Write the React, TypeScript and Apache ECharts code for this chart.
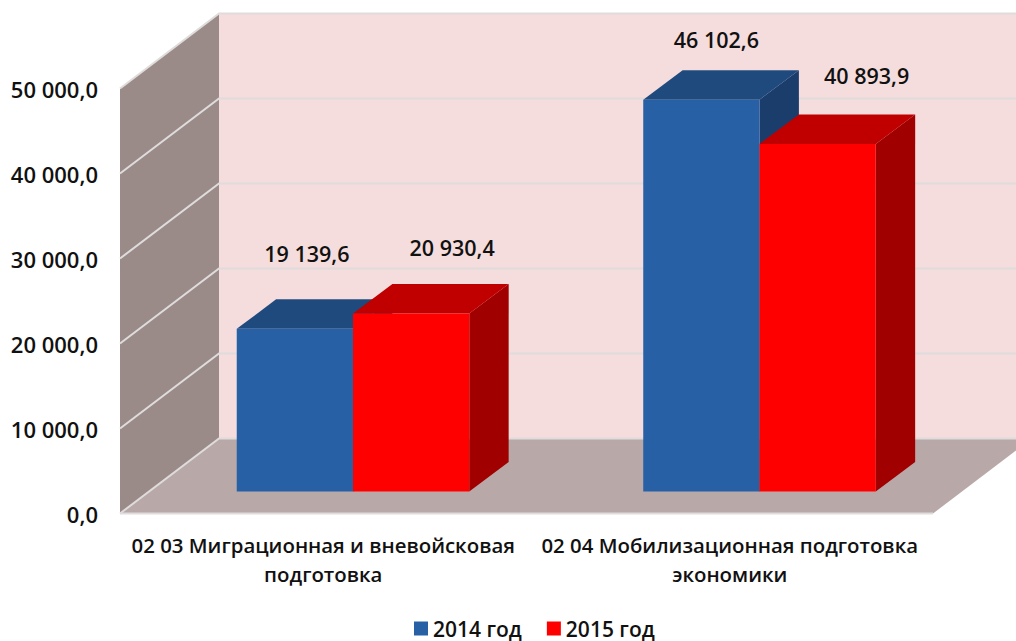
import React, { useEffect, useRef } from "react";
import * as echarts from "echarts";

const categories = [
  "02 03 Миграционная и вневойсковая\nподготовка",
  "02 04 Мобилизационная подготовка\nэкономики",
];
const values2014 = [19139.6, 46102.6];
const values2015 = [20930.4, 40893.9];
const yTicks = [0, 10000, 20000, 30000, 40000, 50000];
const seriesNames = ["2014 год", "2015 год"];

const FONT = '"Open Sans", "Noto Sans", sans-serif';
const WEIGHT = 600;
const WALL_DX = 99;
const WALL_DY = -75;
const BAR_SHIFT_X = 29.75;
const BAR_SHIFT_Y = -22;
const BAR_DX = 39.4;
const BAR_DY = -29.5;
const BAR_RATIO = 0.286;
const GRID_COLOR = "#dfdcdc";

// label centre relative to the front-top centre of each bar
const labelNudge2014 = [[12, -75], [15, -60]];
const labelNudge2015 = [[41, -66], [49, -68]];

const fmt = (v: number, digits = 1) => {
  const [i, d] = v.toFixed(digits).split(".");
  return i.replace(/\B(?=(\d{3})+$)/g, " ") + "," + d;
};

const barRenderer =
  (seriesIdx: number, front: string, top: string, side: string, nudges: number[][]) =>
  (params: any, api: any) => {
    const cat = api.value(0);
    const val = api.value(1);
    const band = api.size([1, 0])[0];
    const w = band * BAR_RATIO;
    const c = api.coord([cat, val]);
    const b = api.coord([cat, 0]);
    const x0 = c[0] + BAR_SHIFT_X + (seriesIdx - 1) * w;
    const x1 = x0 + w;
    const yt = c[1] + BAR_SHIFT_Y;
    const yb = b[1] + BAR_SHIFT_Y;
    const [nx, ny] = nudges[params.dataIndex];
    return {
      type: "group",
      children: [
        {
          type: "polygon",
          shape: { points: [[x1, yt], [x1 + BAR_DX, yt + BAR_DY], [x1 + BAR_DX, yb + BAR_DY], [x1, yb]] },
          style: { fill: side },
        },
        {
          type: "polygon",
          shape: { points: [[x0, yt], [x0 + BAR_DX, yt + BAR_DY], [x1 + BAR_DX, yt + BAR_DY], [x1, yt]] },
          style: { fill: top },
        },
        { type: "rect", shape: { x: x0, y: yt, width: w, height: yb - yt }, style: { fill: front } },
        {
          type: "text",
          z2: 50,
          style: {
            text: fmt(val),
            x: (x0 + x1) / 2 + nx,
            y: yt + ny,
            align: "center",
            verticalAlign: "middle",
            fill: "#111",
            fontFamily: FONT,
            fontWeight: WEIGHT,
            fontSize: 21.5,
          },
        },
      ],
    };
  };

const wallRenderer = (params: any) => {
  const g = params.coordSys;
  const l = g.x;
  const r = g.x + g.width;
  const t = g.y;
  const b = g.y + g.height;
  return {
    type: "group",
    children: [
      {
        type: "polygon",
        shape: { points: [[l + WALL_DX, t + WALL_DY], [r + WALL_DX, t + WALL_DY], [r + WALL_DX, b + WALL_DY], [l + WALL_DX, b + WALL_DY]] },
        style: { fill: "#f5dddd" },
      },
      {
        type: "polygon",
        shape: { points: [[l, t], [l + WALL_DX, t + WALL_DY], [l + WALL_DX, b + WALL_DY], [l, b]] },
        style: { fill: "#9a8b89" },
      },
      {
        type: "polygon",
        shape: { points: [[l, b], [l + WALL_DX, b + WALL_DY], [r + WALL_DX, b + WALL_DY], [r, b]] },
        style: { fill: "#b9a8a8" },
      },
      {
        type: "line",
        shape: { x1: l, y1: b, x2: r, y2: b },
        style: { stroke: GRID_COLOR, lineWidth: 2 },
      },
    ],
  };
};

const gridRenderer = (params: any, api: any) => {
  const g = params.coordSys;
  const y = api.coord([0, api.value(0)])[1];
  const l = g.x;
  const r = g.x + g.width;
  return {
    type: "polyline",
    shape: { points: [[l, y], [l + WALL_DX, y + WALL_DY], [r + WALL_DX, y + WALL_DY]] },
    style: { stroke: GRID_COLOR, lineWidth: 2, fill: "none" },
  };
};

export default function App() {
  const ref = useRef<HTMLDivElement>(null);
  useEffect(() => {
    const chart = echarts.init(ref.current!, undefined, { renderer: "svg" });
    chart.setOption({
      animation: false,
      backgroundColor: "#fff",
      grid: { left: 120, top: 88.5, width: 813, height: 425 },
      legend: {
        data: seriesNames,
        top: 618,
        left: 414,
        icon: "rect",
        itemWidth: 14,
        itemHeight: 14,
        itemGap: 25,
        padding: 0,
        textStyle: { fontFamily: FONT, fontWeight: WEIGHT, fontSize: 21, color: "#111", height: 21, lineHeight: 21 },
      },
      xAxis: {
        type: "category",
        data: categories,
        axisLine: { show: false },
        axisTick: { show: false },
        axisLabel: {
          interval: 0,
          margin: 17,
          fontFamily: FONT,
          fontWeight: WEIGHT,
          fontSize: 20.4,
          lineHeight: 29,
          color: "#111",
        },
      },
      yAxis: {
        type: "value",
        min: 0,
        max: 50000,
        interval: 10000,
        axisLine: { show: false },
        axisTick: { show: false },
        splitLine: { show: false },
        axisLabel: {
          margin: 22,
          fontFamily: FONT,
          fontWeight: WEIGHT,
          fontSize: 22,
          color: "#111",
          formatter: (v: number) => fmt(v),
        },
      },
      series: [
        { type: "custom", name: "walls", z: 1, silent: true, renderItem: wallRenderer, data: [[0]], encode: { y: 0 } },
        {
          type: "custom",
          name: "grid",
          z: 2,
          silent: true,
          renderItem: gridRenderer,
          data: yTicks.map((v) => [v]),
          encode: { y: 0 },
        },
        {
          type: "custom",
          name: seriesNames[0],
          z: 3,
          itemStyle: { color: "#2860a5" },
          renderItem: barRenderer(0, "#2860a5", "#1f4a7e", "#1b3d6c", labelNudge2014),
          data: values2014.map((v, i) => [i, v]),
          encode: { x: 0, y: 1 },
        },
        {
          type: "custom",
          name: seriesNames[1],
          z: 4,
          itemStyle: { color: "#ff0000" },
          renderItem: barRenderer(1, "#ff0000", "#c00000", "#a00000", labelNudge2015),
          data: values2015.map((v, i) => [i, v]),
          encode: { x: 0, y: 1 },
        },
      ],
    });
    return () => chart.dispose();
  }, []);
  return <div ref={ref} style={{ position: "fixed", left: 0, top: 0, width: 1016, height: 641 }} />;
}
